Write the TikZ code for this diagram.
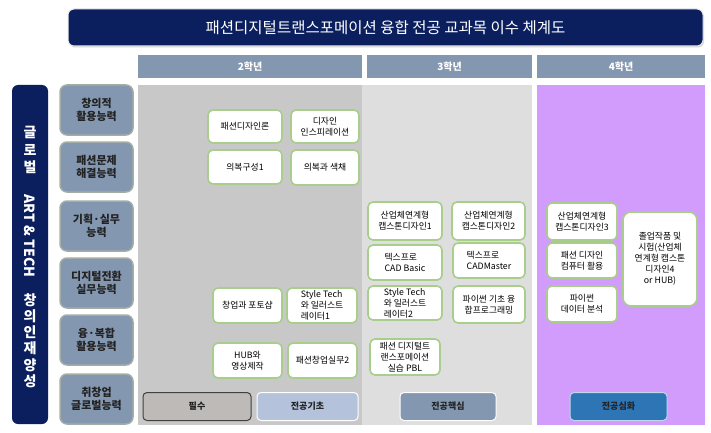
\documentclass[tikz,border=0pt]{standalone}
\usepackage{fontspec}
\setmainfont{Noto Sans CJK KR}
\usetikzlibrary{shadows}
\definecolor{navy}{HTML}{0B1F5E}
\definecolor{slate}{HTML}{8497B0}
\definecolor{slateedge}{HTML}{A3ADA6}
\definecolor{colA}{HTML}{C8C8C8}
\definecolor{colB}{HTML}{DEDEDE}
\definecolor{colC}{HTML}{D29CFC}
\definecolor{crsgreen}{HTML}{A9CD8A}
\definecolor{pilsu}{HTML}{BDBAB8}
\definecolor{gichoc}{HTML}{B4C2DC}
\definecolor{simhwa}{HTML}{2E75B6}
\definecolor{txtdark}{HTML}{222222}
\tikzset{
  course/.style={draw=crsgreen, line width=1.6pt, fill=white, rounded corners=5pt,
    align=center, font=\fontsize{8.8}{11}\selectfont, text=black, inner sep=1pt},
  comp/.style={draw=slateedge, line width=1.5pt, fill=slate, rounded corners=7pt,
    align=center, font=\fontsize{11}{13}\selectfont\bfseries, text=txtdark,
    minimum width=73pt, minimum height=50pt, inner sep=1pt},
  yearhead/.style={fill=slate, font=\fontsize{10}{12}\selectfont\bfseries, text=white,
    minimum height=23pt, inner sep=0pt},
  legendbox/.style={rounded corners=4pt, line width=1pt, minimum height=28pt,
    font=\fontsize{9}{11}\selectfont\bfseries, text=txtdark, inner sep=0pt},
  vtext/.style={text=white, font=\fontsize{14}{17}\selectfont\bfseries, align=center, inner sep=0pt},
}
\begin{document}
\begin{tikzpicture}[x=1pt,y=-1pt]
\useasboundingbox (0,0) rectangle (711,433);
\fill[white] (0,0) rectangle (711,433);

% title
\node[fill=navy, draw=white!85!gray, line width=1pt, rounded corners=6pt,
  minimum width=635pt, minimum height=37pt, text=white,
  font=\fontsize{15.5}{18}\selectfont,
  drop shadow={opacity=0.35, shadow xshift=1pt, shadow yshift=-1.5pt}]
  (title) at (385.5,27.5) {패션디지털트랜스포메이션 융합 전공 교과목 이수 체계도};

% year headers
\node[yearhead, minimum width=224pt] (y2) at (250,66.5) {2학년};
\node[yearhead, minimum width=165pt] (y3) at (449.5,66.5) {3학년};
\node[yearhead, minimum width=168pt] (y4) at (621,66.5) {4학년};

% columns
\node[fill=colA, minimum width=224pt, minimum height=340pt, inner sep=0pt] (colyr2) at (250,255) {};
\node[fill=colB, minimum width=170pt, minimum height=340pt, inner sep=0pt] (colyr3) at (447,255) {};
\node[fill=colC, minimum width=168pt, minimum height=340pt, inner sep=0pt] (colyr4) at (621,255) {};

% left bar
\node[fill=navy, rounded corners=6pt, minimum width=36pt, minimum height=339pt, inner sep=0pt]
  (bar) at (30,254.5) {};
\node[vtext, font=\fontsize{14}{17.5}\selectfont\bfseries] (v1) at (30,150) {글\\로\\벌};
\node[vtext, rotate=-90] (v2) at (30,236) {ART \& TECH};
\node[vtext, font=\fontsize{14}{16}\selectfont\bfseries] (v3) at (30,324) {창\\의\\인\\재};
\node[vtext, font=\fontsize{14}{16}\selectfont\bfseries] (v4) at (30,373) {양\\성};

% competencies
\node[comp] (k1) at (96.5,110) {창의적\\활용능력};
\node[comp] (k2) at (96.5,167) {패션문제\\해결능력};
\node[comp] (k3) at (96.5,226) {기획·실무\\능력};
\node[comp] (k4) at (96.5,283) {디지털전환\\실무능력};
\node[comp] (k5) at (96.5,340) {융·복합\\활용능력};
\node[comp] (k6) at (96.5,399) {취창업\\글로벌능력};

% year 2 courses
\node[course, minimum width=74pt, minimum height=33pt] (c1) at (245,126.5) {패션디자인론};
\node[course, minimum width=68pt, minimum height=33pt] (c2) at (325,126.5) {디자인\\인스피레이션};
\node[course, minimum width=74pt, minimum height=34pt] (c3) at (245,167) {의복구성1};
\node[course, minimum width=68pt, minimum height=35pt] (c4) at (325,167.5) {의복과 색채};
\node[course, minimum width=69pt, minimum height=35pt] (c5) at (247.5,305.5) {창업과 포토샵};
\node[course, minimum width=70pt, minimum height=35pt, align=left] (c6) at (322,305.5) {Style Tech\\와 일러스트\\레이터1};
\node[course, minimum width=69pt, minimum height=35pt] (c7) at (247.5,360.5) {HUB와\\영상제작};
\node[course, minimum width=69pt, minimum height=35pt] (c8) at (322.5,360.5) {패션창업실무2};

% year 3 courses
\node[course, minimum width=74pt, minimum height=38pt] (d1) at (405,221) {산업체연계형\\캡스톤디자인1};
\node[course, minimum width=73pt, minimum height=38pt] (d2) at (488.5,221) {산업체연계형\\캡스톤디자인2};
\node[course, minimum width=74pt, minimum height=35pt, align=left] (d3) at (405,262.5) {텍스프로\\CAD Basic};
\node[course, minimum width=72pt, minimum height=35pt, align=left] (d4) at (489,260.5) {텍스프로\\CADMaster};
\node[course, minimum width=74pt, minimum height=34pt, align=left] (d5) at (405,303) {Style Tech\\와 일러스트\\레이터2};
\node[course, minimum width=72pt, minimum height=37pt] (d6) at (489,304.5) {파이썬 기초 융\\합프로그래밍};
\node[course, minimum width=70pt, minimum height=36pt] (d7) at (405,357) {패션 디지털트\\랜스포메이션\\실습 PBL};

% year 4 courses
\node[course, minimum width=70pt, minimum height=37pt] (e1) at (582,221.5) {산업체연계형\\캡스톤디자인3};
\node[course, minimum width=70pt, minimum height=35pt] (e2) at (582,260.5) {패션 디자인\\컴퓨터 활용};
\node[course, minimum width=70pt, minimum height=36pt] (e3) at (582,304) {파이썬\\데이터 분석};
\node[course, rounded corners=8pt, minimum width=74pt, minimum height=94pt] (e4) at (660,259) {졸업작품 및\\시험(산업체\\연계형 캡스톤\\디자인4\\or HUB)};

% legend
\node[legendbox, fill=pilsu, draw=black!75, minimum width=108pt] (l1) at (197,406.5) {필수};
\node[legendbox, fill=gichoc, draw=white, minimum width=101pt] (l2) at (307.5,406.5) {전공기초};
\node[legendbox, fill=slate, draw=white, minimum width=96pt] (l3) at (448,406.5) {전공핵심};
\node[legendbox, fill=simhwa, draw=white!70!simhwa, minimum width=97pt] (l4) at (618.5,406.5) {전공심화};
\end{tikzpicture}
\end{document}
